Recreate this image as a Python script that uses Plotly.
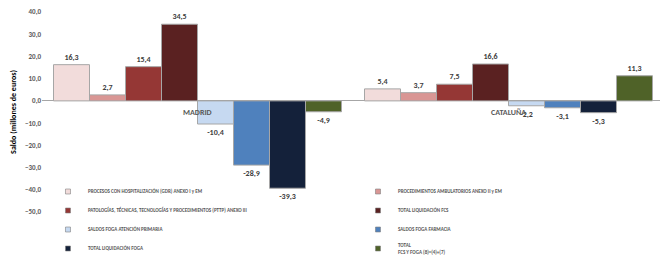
import plotly.graph_objects as go

categories = ["MADRID", "CATALUÑA"]
series_names = [
    "PROCESOS CON HOSPITALIZACIÓN (GDR) ANEXO I y EM",
    "PROCEDIMIENTOS AMBULATORIOS ANEXO II y EM",
    "PATOLOGÍAS, TÉCNICAS, TECNOLOGÍAS Y PROCEDIMIENTOS (PTTP) ANEXO III",
    "TOTAL LIQUIDACIÓN FCS",
    "SALDOS FOGA ATENCIÓN PRIMARIA",
    "SALDOS FOGA FARMACIA",
    "TOTAL LIQUIDACIÓN FOGA",
    "TOTAL<br>FCS Y FOGA (8)=(4)+(7)",
]
madrid = [16.3, 2.7, 15.4, 34.5, -10.4, -28.9, -39.3, -4.9]
cataluna = [5.4, 3.7, 7.5, 16.6, -2.2, -3.1, -5.3, 11.3]
colors = ["#f2dcdb", "#d99694", "#953735", "#5a2121",
          "#c6d9f1", "#4f81bd", "#14213a", "#4f6228"]
y_ticks = [40, 30, 20, 10, 0, -10, -20, -30, -40, -50]

FONT = "Carlito, Calibri, Liberation Sans, Arial"

fig = go.Figure()
for i, name in enumerate(series_names):
    fig.add_trace(go.Bar(
        x=categories, y=[madrid[i], cataluna[i]], name=name,
        legendgroup=f"s{i}", showlegend=False,
        marker=dict(color=colors[i], line=dict(color="#a6a6a6", width=1)),
        texttemplate="%{y:.1f}", textposition="outside",
        textfont=dict(family=FONT, size=8, color="#404040", weight="bold"),
        cliponaxis=False,
    ))
# small square legend keys (legend-only entries)
for i, name in enumerate(series_names):
    fig.add_trace(go.Scatter(
        x=[None], y=[None], mode="markers", name=name, legendgroup=f"s{i}",
        marker=dict(symbol="square", size=5, color=colors[i],
                    line=dict(color="#7f7f7f", width=0.6)),
    ))

for c in categories:
    fig.add_annotation(x=c, y=0, text=c, showarrow=False, yshift=-11,
                       font=dict(family=FONT, size=8, color="#595959", weight="bold"))

# the page body adds an 8px offset; margins below compensate for it
fig.update_layout(
    width=668, height=255,
    margin=dict(l=34, r=12, t=4, b=51, autoexpand=False),
    barmode="group", bargap=0.074, bargroupgap=0,
    separators=",.",
    plot_bgcolor="white", paper_bgcolor="white",
    font=dict(family=FONT),
    showlegend=True,
    legend=dict(orientation="h", x=0.0096, xanchor="left", y=0.175, yanchor="top",
                entrywidth=265, traceorder="normal", itemsizing="trace",
                font=dict(family=FONT, size=5, color="#595959", weight="bold"),
                bgcolor="rgba(0,0,0,0)"),
    xaxis=dict(showticklabels=False, showgrid=False, zeroline=False, showline=False),
    yaxis=dict(range=[-50, 40], tickvals=y_ticks, tickformat=".1f", showgrid=False,
               ticklabeloverflow="allow",
               zeroline=True, zerolinecolor="#a6a6a6", zerolinewidth=1,
               tickfont=dict(family=FONT, size=7, color="#595959", weight="bold"),
               title=dict(text="Saldo (millones de euros)", standoff=8,
                          font=dict(family=FONT, size=8, color="#000000", weight="bold"))),
)

fig.write_html("out.html")
